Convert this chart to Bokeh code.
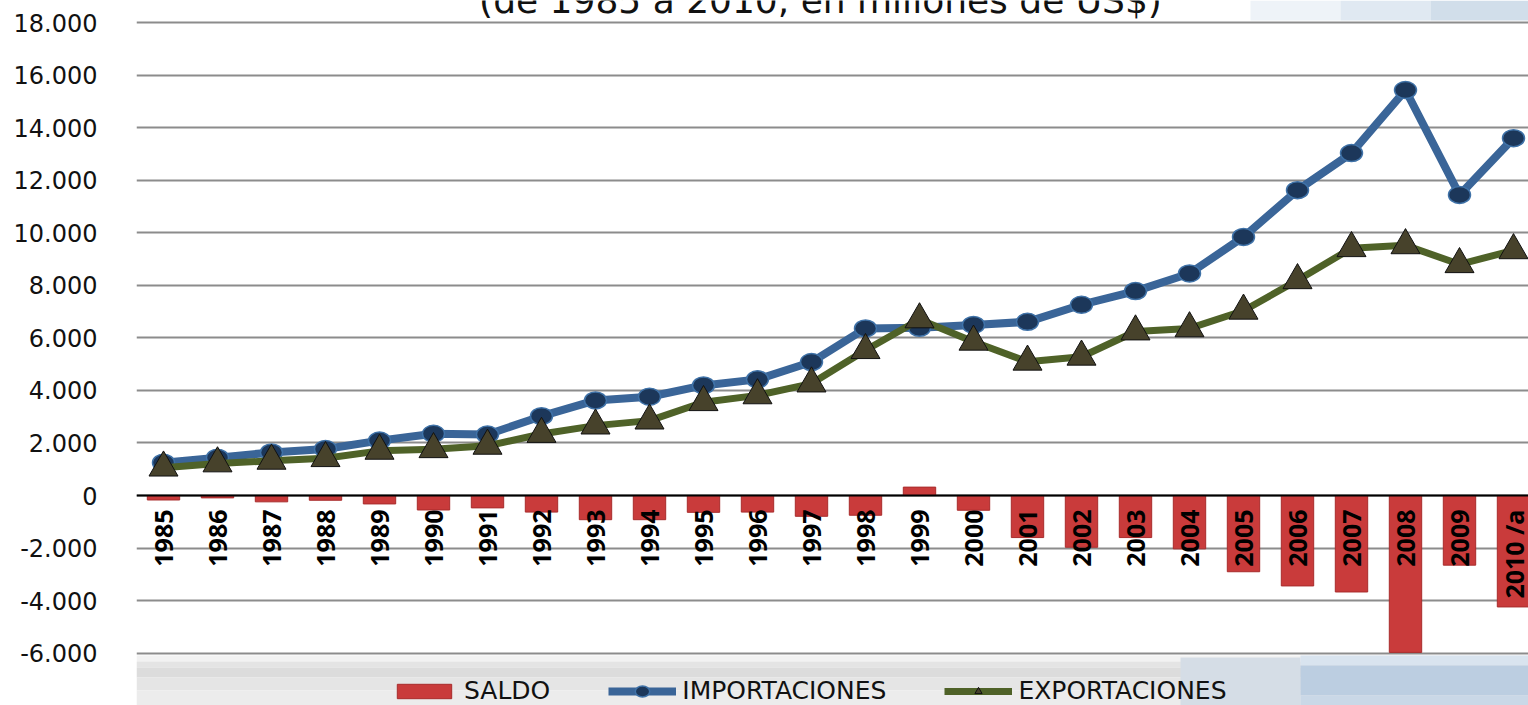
import math
from bokeh.plotting import figure
from bokeh.models import (Range1d, FixedTicker, Legend, LegendItem, Span, Label,
                          BoxAnnotation, ColumnDataSource)
from bokeh.core.properties import value
from bokeh.embed import file_html
from bokeh.resources import INLINE

# ---------------- data ----------------
years = ["1985", "1986", "1987", "1988", "1989", "1990", "1991", "1992", "1993",
         "1994", "1995", "1996", "1997", "1998", "1999", "2000", "2001", "2002",
         "2003", "2004", "2005", "2006", "2007", "2008", "2009", "2010 /a"]
importaciones = [1250, 1440, 1640, 1770, 2090, 2350, 2320, 3020, 3620, 3760, 4190,
                 4420, 5080, 6360, 6380, 6490, 6610, 7260, 7780, 8450, 9840, 11620,
                 13030, 15430, 11440, 13600]
exportaciones = [1060, 1220, 1320, 1420, 1700, 1760, 1890, 2340, 2660, 2850, 3550,
                 3810, 4260, 5530, 6700, 5850, 5090, 5280, 6240, 6360, 7030, 8190,
                 9410, 9520, 8800, 9330]
saldo = [-170, -90, -240, -180, -320, -550, -470, -630, -920, -920, -640, -630,
         -790, -750, 320, -560, -1600, -1970, -1600, -2030, -2900, -3440, -3670,
         -5970, -2650, -4240]
y_ticks = [-6000, -4000, -2000, 0, 2000, 4000, 6000, 8000, 10000, 12000, 14000,
           16000, 18000]
y_tick_labels = ["-6.000", "-4.000", "-2.000", "0", "2.000", "4.000", "6.000",
                 "8.000", "10.000", "12.000", "14.000", "16.000", "18.000"]
title_text = "(de 1985 a 2010, en millones de US$)"
legend_labels = ["SALDO", "IMPORTACIONES", "EXPORTACIONES"]

# ---------------- layout (pixels) ----------------
W, H = 1528, 705
LEFT = 136                 # frame left edge
CAT_PX = 54.0              # width of one category
TOP_TICK_PX = 22.0         # pixel row of the top tick
BOT_TICK_PX = 652.7        # pixel row of the bottom tick
upp = (y_ticks[-1] - y_ticks[0]) / (BOT_TICK_PX - TOP_TICK_PX)   # units per pixel
y_end = y_ticks[-1] + TOP_TICK_PX * upp
y_start = y_ticks[0] - (H - BOT_TICK_PX) * upp
x_start = -0.5
x_end = x_start + (W - LEFT) / CAT_PX


def py(px):
    """pixel row -> data value (for background decoration only)"""
    return y_end - px * upp


def pxx(px):
    """pixel column -> data x (for background decoration only)"""
    return x_start + (px - LEFT) / CAT_PX


xs = list(range(len(years)))
src = ColumnDataSource(dict(x=xs, year=years, imp=importaciones,
                            exp=exportaciones, saldo=saldo))

p = figure(width=W, height=H, output_backend="svg", toolbar_location=None,
           x_range=Range1d(x_start, x_end), y_range=Range1d(y_start, y_end),
           x_axis_location=None,
           min_border_left=LEFT, min_border_right=0,
           min_border_top=0, min_border_bottom=0)
p.outline_line_color = None
p.background_fill_color = "white"
p.border_fill_color = "white"
p.xgrid.visible = False
p.ygrid.ticker = FixedTicker(ticks=y_ticks)
p.ygrid.grid_line_color = "#8c8c8c"
p.ygrid.grid_line_width = 2

ax = p.yaxis[0]
ax.ticker = FixedTicker(ticks=y_ticks)
ax.major_label_overrides = dict(zip(y_ticks, y_tick_labels))
ax.axis_line_color = None
ax.major_tick_line_color = None
ax.minor_tick_line_color = None
ax.major_label_standoff = 33
ax.major_label_text_font = "DejaVu Sans"
ax.major_label_text_font_size = "24px"
ax.major_label_text_color = "#111111"

# ---------------- background decoration (slide background) ----------------
def box(x0, x1, y0, y1, color):
    p.add_layout(BoxAnnotation(left=pxx(x0), right=pxx(x1), top=py(y0), bottom=py(y1),
                               fill_color=color, fill_alpha=1.0, line_color=None,
                               level="underlay"))

box(LEFT, W, 655, 661, "#f2f2f2")
box(LEFT, W, 661, 667, "#e4e4e4")
box(LEFT, W, 667, 677, "#dcdcdc")
box(LEFT, W, 677, 690, "#e5e5e5")
box(LEFT, W, 690, H, "#ececec")
box(1180, 1300, 657, H, "#d5dde6")
box(1300, W, 655, 665, "#d9e4ef")
box(1300, W, 665, 695, "#bccee1")
box(1300, W, 695, H, "#cad8e7")
box(1250, 1340, 0, 20, "#eef3f8")
box(1340, 1430, 0, 20, "#e0e9f2")
box(1430, W, 0, 20, "#d1deea")

# ---------------- glyphs ----------------
bars = p.vbar(x="x", top="saldo", bottom=0, width=0.6, source=src,
              fill_color="#c93b3b", line_color="#a82c2c", line_width=1)
p.add_layout(Span(location=0, dimension="width", line_color="black",
                  line_width=2))

imp_line = p.line("x", "imp", source=src, line_width=8, line_color="#3a6598")
imp_pts = p.ellipse("x", "imp", width=22, height=17, width_units="screen",
                    height_units="screen", source=src, fill_color="#1c375a",
                    line_color="#3f72a8", line_width=1.5)
exp_line = p.line("x", "exp", source=src, line_width=7, line_color="#4f6228")
exp_pts = p.scatter("x", "exp", marker="triangle", size=29, source=src,
                    fill_color="#47422b", line_color="#111111", line_width=1)

p.text(x="x", y=0, text="year", source=src, angle=math.pi / 2,
       text_align="right", text_baseline="middle", y_offset=14, x_offset=0,
       text_font=value("Open Sans"), text_font_style="bold",
       text_font_size="25px", text_color="black")

# ---------------- title (cut at top as in the reference) ----------------
p.add_layout(Label(x=(x_start + x_end) / 2, y=y_ticks[-1], y_offset=22,
                   x_offset=-12, text=title_text, text_align="center",
                   text_baseline="alphabetic", text_font="DejaVu Sans",
                   text_font_size="36px", text_color="#111111"))

# ---------------- legend ----------------
legend = Legend(items=[LegendItem(label=legend_labels[0], renderers=[bars]),
                       LegendItem(label=legend_labels[1], renderers=[imp_line, imp_pts]),
                       LegendItem(label=legend_labels[2], renderers=[exp_line, exp_pts])],
                orientation="horizontal", location=(254, 0),
                glyph_width=68, glyph_height=18, label_standoff=6, spacing=58,
                padding=0, margin=0, background_fill_alpha=0,
                border_line_color=None, label_text_font="DejaVu Sans",
                label_text_font_size="25px", label_text_color="#111111",
                label_height=20)
p.add_layout(legend)

open("out.html", "w").write(file_html(p, INLINE))
